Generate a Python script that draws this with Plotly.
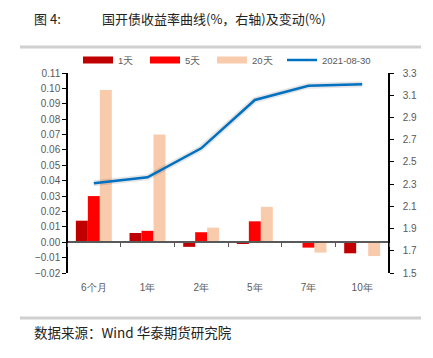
import plotly.graph_objects as go

categories = ["6个月", "1年", "2年", "5年", "7年", "10年"]
chg_1d = [0.014, 0.006, -0.003, -0.001, -0.0005, -0.0072]
chg_5d = [0.030, 0.0074, 0.0065, 0.0136, -0.0035, -0.0005]
chg_20d = [0.099, 0.070, 0.0095, 0.023, -0.0067, -0.009]
yield_curve = [2.307, 2.361, 2.622, 3.057, 3.186, 3.198]
series_names = ["1天", "5天", "20天", "2021-08-30"]
colors = ["#C00000", "#FF0000", "#F8CBAD", "#0070C0"]

# the page body adds an 8px margin, so the figure is drawn 8px smaller/offset
OFF = 8
W, H = 433 - OFF, 358 - OFF
ML, MR, MT, MB = 67 - OFF, 44, 73 - OFF, 85

fig = go.Figure()
for vals, name, col in zip([chg_1d, chg_5d, chg_20d], series_names[:3], colors[:3]):
    fig.add_trace(go.Bar(x=categories, y=vals, name=name, marker_color=col,
                         marker_line_width=0, showlegend=False, legendgroup=name,
                         yaxis="y"))
# shadow of the line
fig.add_trace(go.Scatter(x=categories, y=yield_curve, mode="lines", yaxis="y2",
                         line=dict(color="rgba(0,0,0,0.10)", width=6),
                         showlegend=False, hoverinfo="skip"))
fig.add_trace(go.Scatter(x=categories, y=yield_curve, mode="lines", yaxis="y2",
                         line=dict(color=colors[3], width=2.5), showlegend=False,
                         legendgroup=series_names[3]))
# legend proxies
for i, (name, col, w) in enumerate(zip(series_names, colors, [7, 7, 7, 2.5])):
    fig.add_trace(go.Scatter(x=[None], y=[None], mode="lines", name=name,
                             line=dict(color=col, width=w), legendgroup=name,
                             yaxis="y", legend="legend2" if i == 3 else "legend"))

gray = "#595959"
tickfont = dict(family="Liberation Sans, Arial", size=10, color=gray)
zero_pos = 0.02 / 0.13

def px_x(px):
    return (px - OFF - ML) / (W - ML - MR)

def px_y(py):
    return (H - MB - (py - OFF)) / (H - MT - MB)

legfont = dict(family="Liberation Sans, Arial", size=9.5, color=gray)
fig.update_layout(
    width=W, height=H,
    margin=dict(l=ML, r=MR, t=MT, b=MB, autoexpand=False),
    paper_bgcolor="white", plot_bgcolor="white",
    barmode="group", bargap=0.33, bargroupgap=0.0,
    font=dict(family="Liberation Sans, Arial", color=gray),
    xaxis=dict(anchor="free", position=zero_pos, showline=True, linecolor=gray,
               linewidth=1.5, ticks="outside", tickson="boundaries", ticklen=4,
               tickcolor=gray, tickfont=tickfont, ticklabelstandoff=36,
               showgrid=False, zeroline=False, automargin=False),
    yaxis=dict(range=[-0.02, 0.11], dtick=0.01, tick0=0, tickformat=".2f", showline=True,
               linecolor="black", linewidth=1.5, ticks="outside", ticklen=4,
               tickcolor="black", tickfont=tickfont, showgrid=False,
               zeroline=False, anchor="free", position=0, automargin=False),
    yaxis2=dict(range=[1.5, 3.3], dtick=0.2, tick0=1.5, tickformat=".1f", overlaying="y",
                side="right", anchor="free", position=1, showline=True,
                linecolor="black", linewidth=1.5, ticks="outside", ticklen=4,
                tickcolor="black", tickfont=tickfont, showgrid=False,
                zeroline=False, automargin=False, ticklabelstandoff=7),
    legend=dict(orientation="h", x=px_x(78), y=px_y(60), xanchor="left", yanchor="middle",
                font=legfont, itemwidth=30, entrywidth=22, bgcolor="rgba(0,0,0,0)",
                traceorder="normal"),
    legend2=dict(orientation="h", x=px_x(282), y=px_y(60), xanchor="left", yanchor="middle",
                 font=legfont, itemwidth=30, bgcolor="rgba(0,0,0,0)"),
    showlegend=True,
)

for py in (47, 318):
    fig.add_shape(type="line", xref="paper", yref="paper",
                  x0=px_x(20), x1=px_x(421), y0=px_y(py), y1=px_y(py),
                  line=dict(color="#D0D0D0", width=3))

cjk = "Noto Sans CJK SC"
fig.add_annotation(xref="paper", yref="paper", x=px_x(32), y=px_y(18),
                   xanchor="left", yanchor="middle", showarrow=False,
                   text="图 4:", font=dict(family=cjk, size=13, color="#222222"))
fig.add_annotation(xref="paper", yref="paper", x=px_x(100), y=px_y(18),
                   xanchor="left", yanchor="middle", showarrow=False,
                   text="国开债收益率曲线(%，右轴)及变动(%)",
                   font=dict(family=cjk, size=13, color="#222222"))
fig.add_annotation(xref="paper", yref="paper", x=px_x(32), y=px_y(332),
                   xanchor="left", yanchor="middle", showarrow=False,
                   text="数据来源：Wind 华泰期货研究院",
                   font=dict(family=cjk, size=13.5, color="#222222"))

fig.write_html("out.html")
